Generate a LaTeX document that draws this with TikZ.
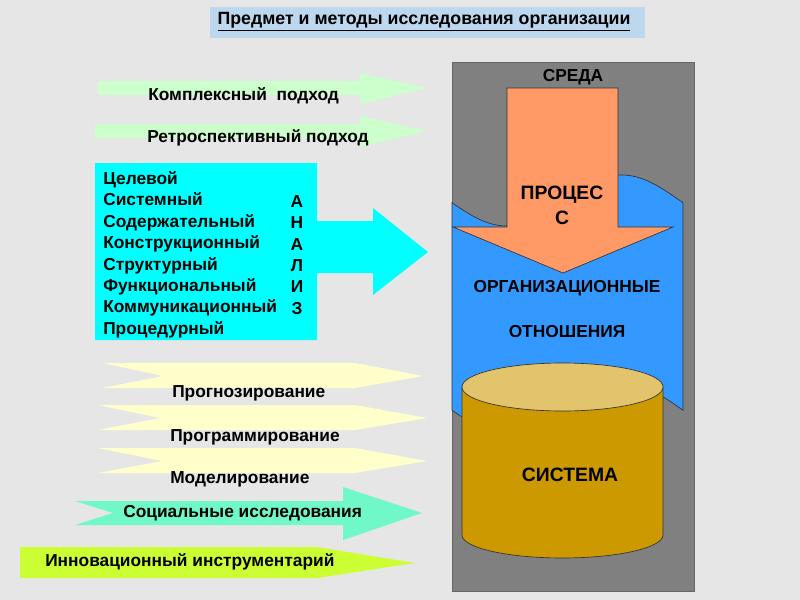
\documentclass[tikz,border=0pt]{standalone}
\usepackage{fontspec}
\setmainfont{Liberation Sans}
\usepackage{tikz}
\definecolor{marble}{HTML}{E6E6E6}
\definecolor{titleblue}{HTML}{BDD7EE}
\definecolor{palegreen}{HTML}{CCFFCC}
\definecolor{aqua}{HTML}{00FFFF}
\definecolor{paleyellow}{HTML}{FFFFCC}
\definecolor{mint}{HTML}{70F8C8}
\definecolor{limey}{HTML}{CCFF33}
\definecolor{panelgray}{HTML}{808080}
\definecolor{waveblue}{HTML}{3399FF}
\definecolor{salmon}{HTML}{FF9966}
\definecolor{goldbody}{HTML}{CC9900}
\definecolor{goldtop}{HTML}{E2C46C}
\tikzset{
	PxGrid/.style={x={(0.75pt,0pt)},y={(0pt,-0.75pt)}},
	LabelText/.style={font=\bfseries\fontsize{13}{15.6}\selectfont,inner sep=0pt},
	BigLabel/.style={font=\bfseries\fontsize{14.5}{18.75}\selectfont,inner sep=0pt,align=center},
	FlatShape/.style={fill=#1,draw=none},
	EdgedShape/.style={fill=#1,draw=black!80,line width=0.5pt}
		}
\def\wave#1{#1+25.5*sin((\x-452)/231*360+5)}% wavy edge of the relations sheet

\begin{document}
\begin{tikzpicture}[PxGrid]

	\fill[marble] (0,0) rectangle (800,600);
	\useasboundingbox (0,0) rectangle (800,600);

	% title
	\fill[titleblue] (210,7) rectangle (645,38);
	\node[LabelText,font=\bfseries\fontsize{13.3}{16}\selectfont] (title) at (424,22)
		{\underline{Предмет и методы исследования организации}};

	% approaches
	\fill[palegreen] (98,81) -- (360,81) -- (360,73) -- (427,88) -- (360,104) -- (360,95) -- (98,95) -- cycle;
	\fill[palegreen] (95,124) -- (360,124) -- (360,116) -- (427,131) -- (360,147) -- (360,138) -- (95,138) -- cycle;
	\node[LabelText,anchor=mid west] (complex) at (148,97) {Комплексный\ \ подход};
	\node[LabelText,anchor=mid west] (retro) at (147,139) {Ретроспективный подход};

	% analysis block
	\fill[aqua] (95,163) -- (317,163) -- (317,221) -- (373,221) -- (373,208) -- (428,252)
		-- (373,295) -- (373,273) -- (317,273) -- (317,340) -- (95,340) -- cycle;
	\foreach \name [count=\i from 0] in {Целевой,Системный,Содержательный,Конструкционный,
		Структурный,Функциональный,Коммуникационный,Процедурный}
		\node[LabelText,anchor=mid west] (kind\i) at (103,{181+21.4*\i}) {\name};
	\foreach \ch [count=\i] in {А,Н,А,Л,И,З}
		\node[LabelText] (letter\i) at (297,{180+21.4*\i}) {\ch};

	% methods
	\fill[paleyellow] (103,363) -- (355,363) -- (423,376) -- (355,388) -- (102,388) -- (163,376) -- cycle;
	\fill[paleyellow] (98,405) -- (355,405) -- (427,418) -- (355,430) -- (98,430) -- (160,418) -- cycle;
	\fill[paleyellow] (98,448) -- (355,448) -- (427,461) -- (355,473) -- (98,473) -- (162,461) -- cycle;
	\node[LabelText,anchor=mid west] (forecast) at (172,394) {Прогнозирование};
	\node[LabelText,anchor=mid west] (program) at (170,438) {Программирование};
	\node[LabelText,anchor=mid west] (model) at (170,480) {Моделирование};

	\fill[mint] (75,501) -- (343,501) -- (343,487) -- (422,513) -- (343,540) -- (343,525)
		-- (75,525) -- (113,513) -- cycle;
	\node[LabelText,anchor=mid west] (social) at (123,514) {Социальные исследования};

	\fill[limey] (20,547) -- (317,547) -- (415,563) -- (317,578) -- (20,578) -- cycle;
	\node[LabelText,anchor=mid west] (innov) at (45,563) {Инновационный инструментарий};

	% environment panel
	\draw[fill=panelgray,draw=black!60,line width=0.5pt] (452,62) rectangle (694,591);
	\node[LabelText] (env) at (573,77) {СРЕДА};

	\draw[EdgedShape=waveblue] plot[domain=452:683,samples=60] (\x,{\wave{200.5}})
		-- plot[domain=683:452,samples=60] (\x,{\wave{408}}) -- cycle;

	\draw[EdgedShape=salmon] (507,88) -- (618,88) -- (618,227) -- (673,227) -- (563,273)
		-- (453,227) -- (507,227) -- cycle;
	\node[BigLabel] (process) at (562,205) {ПРОЦЕС\\С};

	\node[LabelText] (org) at (567,288) {ОРГАНИЗАЦИОННЫЕ};
	\node[LabelText] (rel) at (567,332) {ОТНОШЕНИЯ};

	% system cylinder
	\draw[EdgedShape=goldbody] (462,387) -- (462,535)
		-- plot[domain=180:360,samples=40] ({562.5+100.5*cos(\x)},{535-23*sin(\x)})
		-- (663,387) -- cycle;
	\draw[EdgedShape=goldtop] (562.5,387) ellipse [x radius=100.5,y radius=24];
	\node[BigLabel] (system) at (570,475) {СИСТЕМА};

\end{tikzpicture}
\end{document}
